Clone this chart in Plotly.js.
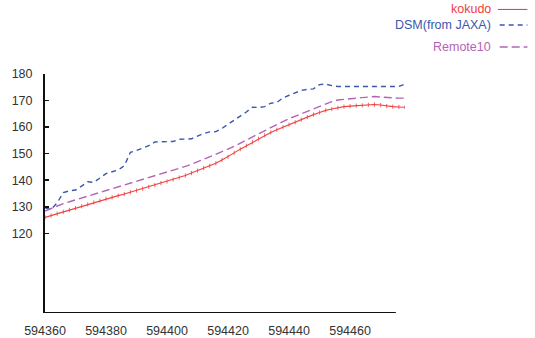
<!DOCTYPE html>
<html>
<head>
<meta charset="utf-8">
<script src="https://cdn.plot.ly/plotly-3.0.1.min.js"></script>
<style>html,body{margin:0;padding:0;background:#fff;}#chart{width:535px;height:338px;}</style>
</head>
<body>
<div id="chart"></div>
<script>
// x positions (every 2 units)
const xStart = 594360;
const xValues = [];
for (let k = 0; k < 60; k++) xValues.push(xStart + 2 * k);

const kokudo = [126.0,126.7,127.4,128.1,128.8,129.5,130.2,130.9,131.6,132.3,
  133.0,133.6,134.2,134.8,135.5,136.1,136.8,137.5,138.2,138.9,
  139.5,140.2,141.0,141.8,142.7,143.6,144.6,145.4,146.4,147.6,
  148.8,150.3,151.7,153.0,154.3,155.6,156.9,158.0,159.0,160.0,
  160.9,161.8,162.8,163.8,164.7,165.5,166.3,166.8,167.3,167.7,
  167.9,168.1,168.2,168.4,168.5,168.3,167.9,167.7,167.6,167.5];

const dsm = [129.6,129.0,131.5,135.3,136.0,136.3,137.8,139.4,139.2,141.0,
  142.5,143.2,143.8,145.5,150.5,151.2,152.0,153.0,154.4,154.4,
  154.4,154.6,155.4,155.6,155.6,156.6,157.6,158.2,158.3,159.5,
  161.0,162.6,164.2,165.7,167.5,167.4,167.7,169.0,169.3,171.0,
  172.0,173.0,173.8,174.2,174.4,176.0,176.2,175.6,175.3,175.3,
  175.3,175.3,175.3,175.3,175.3,175.3,175.3,175.3,175.3,176.2];

const remote10 = [128.4,129.4,130.3,131.2,131.9,132.6,133.3,134.0,134.6,135.4,
  136.0,136.7,137.4,138.1,138.7,139.4,140.1,140.8,141.5,142.2,
  143.0,143.7,144.4,145.2,146.0,146.9,147.9,148.9,149.8,150.8,
  151.7,152.8,154.0,155.2,156.3,157.5,158.7,160.0,161.0,162.1,
  163.2,164.1,165.0,166.0,166.9,167.9,168.8,169.6,170.2,170.5,
  170.7,170.9,171.1,171.3,171.5,171.3,171.1,171.0,170.9,170.9];

const seriesNames = ["kokudo", "DSM(from JAXA)", "Remote10"];
const xTicks = [594360, 594380, 594400, 594420, 594440, 594460];
const yTicks = [120, 130, 140, 150, 160, 170, 180];

const cRed = "rgb(240,64,64)";
const cBlue = "rgb(58,88,172)";
const cPurple = "rgb(180,100,180)";

const traces = [
  {x: xValues, y: kokudo, name: seriesNames[0], mode: "lines+markers",
   line: {color: cRed, width: 1.1},
   marker: {symbol: "line-ns", size: 3, line: {color: cRed, width: 0.8}, color: cRed}},
  {x: xValues, y: dsm, name: seriesNames[1], mode: "lines",
   line: {color: cBlue, width: 1.4, dash: "5px,4px"}},
  {x: xValues, y: remote10, name: seriesNames[2], mode: "lines",
   line: {color: cPurple, width: 1.4, dash: "8px,4px"}}
];

const font = {family: "Liberation Sans, Arial, sans-serif", size: 12.5, color: "#333"};

const layout = {
  width: 535, height: 338,
  margin: {l: 45, r: 130, t: 74, b: 25},
  paper_bgcolor: "#fff", plot_bgcolor: "#fff",
  showlegend: false,
  font: font,
  xaxis: {range: [594360, 594478], tickvals: xTicks, ticktext: xTicks.map(String),
    showgrid: false, zeroline: false, showline: false, ticks: "",
    ticklabelstandoff: 8, tickfont: font},
  yaxis: {range: [90, 180], tickvals: yTicks, ticktext: yTicks.map(String),
    showgrid: false, zeroline: false, showline: true, linecolor: "#111", linewidth: 2,
    ticks: "inside", ticklen: 4, tickwidth: 1.5, tickcolor: "#111",
    ticklabelstandoff: 8, tickfont: font},
  shapes: [
    {type: "line", xref: "x", yref: "y", x0: 594360, x1: 594475, y0: 90, y1: 90,
     line: {color: "#111", width: 2}},
    {type: "line", xref: "paper", yref: "paper", x0: 1.258, x1: 1.34, y0: 1.27, y1: 1.27, line: {color: cRed, width: 1.1}},
    {type: "line", xref: "paper", yref: "paper", x0: 1.263, x1: 1.34, y0: 1.205, y1: 1.205, line: {color: cBlue, width: 1.3, dash: "5px,4px"}},
    {type: "line", xref: "paper", yref: "paper", x0: 1.263, x1: 1.34, y0: 1.113, y1: 1.113, line: {color: cPurple, width: 1.3, dash: "8px,4px"}}
  ],
  annotations: [
    {xref: "paper", yref: "paper", x: 1.245, y: 1.27, xanchor: "right", yanchor: "middle", showarrow: false,
     text: seriesNames[0], font: {family: font.family, size: 12.5, color: cRed}},
    {xref: "paper", yref: "paper", x: 1.245, y: 1.205, xanchor: "right", yanchor: "middle", showarrow: false,
     text: seriesNames[1], font: {family: font.family, size: 12.5, color: cBlue}},
    {xref: "paper", yref: "paper", x: 1.245, y: 1.113, xanchor: "right", yanchor: "middle", showarrow: false,
     text: seriesNames[2], font: {family: font.family, size: 12.5, color: cPurple}}
  ]
};

Plotly.newPlot("chart", traces, layout, {displayModeBar: false, staticPlot: true});
</script>
</body>
</html>
